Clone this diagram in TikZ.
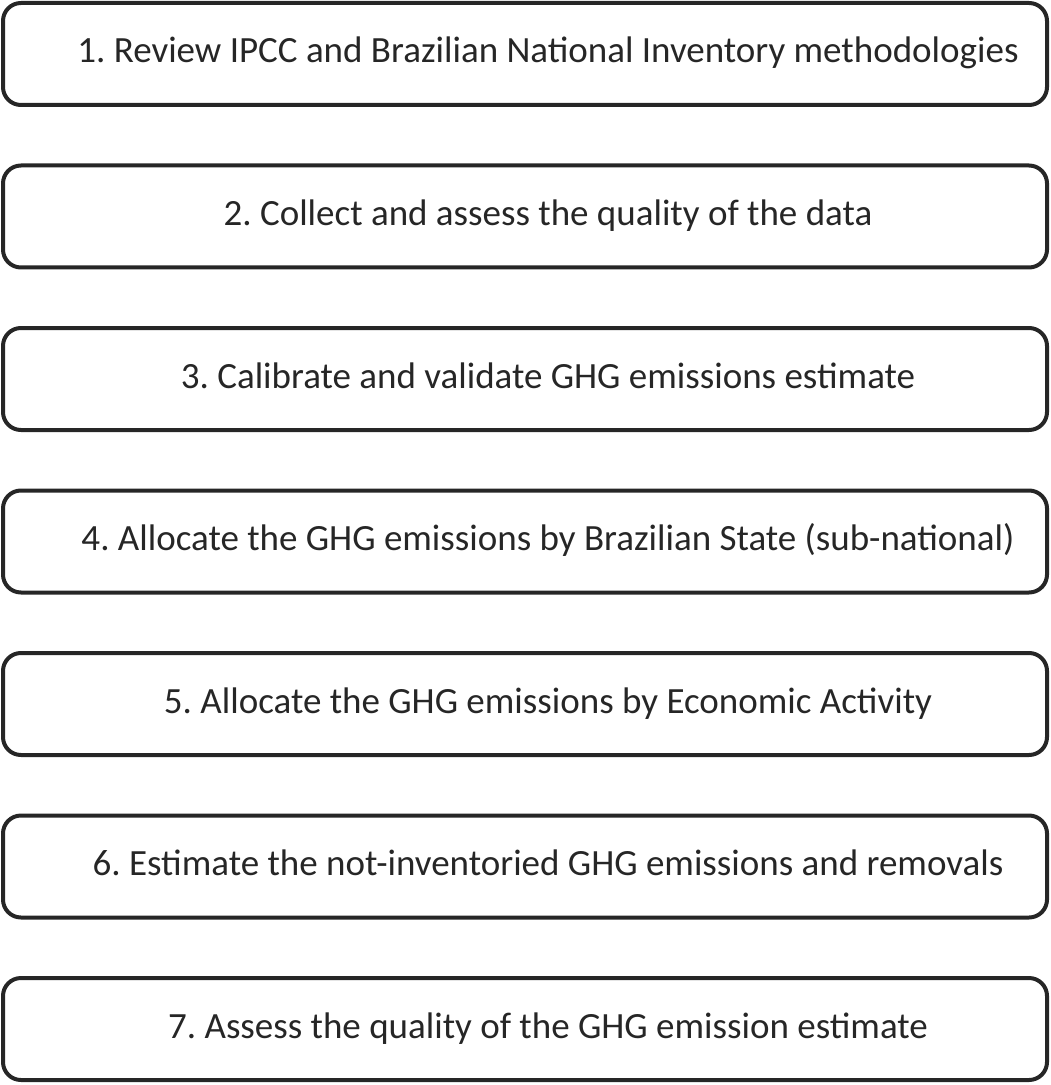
\documentclass[tikz,border=0pt]{standalone}
\usepackage{fontspec}
\setmainfont{Carlito}
\frenchspacing
\begin{document}
\begin{tikzpicture}[x=0.5pt,y=-0.5pt,
  stepbox/.style={draw=black!85, line width=2pt, rounded corners=9pt, minimum width=522pt, minimum height=51pt, inner sep=0pt},
  steptext/.style={anchor=base, inner sep=0pt, font=\fontsize{18.5pt}{21pt}\selectfont, text=black!85}]
\useasboundingbox (0,0) rectangle (1050,1085);
\foreach \i/\t in {1/{1. Review IPCC and Brazilian National Inventory methodologies},
                   2/{2. Collect and assess the quality of the data},
                   3/{3. Calibrate and validate GHG emissions estimate},
                   4/{4. Allocate the GHG emissions by Brazilian State (sub-national)},
                   5/{5. Allocate the GHG emissions by Economic Activity},
                   6/{6. Estimate the not-inventoried GHG emissions and removals},
                   7/{7. Assess the quality of the GHG emission estimate}}{
  \node[stepbox] (b\i) at (525, {54+162.5*(\i-1)}) {};
  \node[steptext] (t\i) at ([xshift=11.5pt,yshift=-4.5pt]b\i.center) {\frenchspacing\t};
}
\end{tikzpicture}
\end{document}
